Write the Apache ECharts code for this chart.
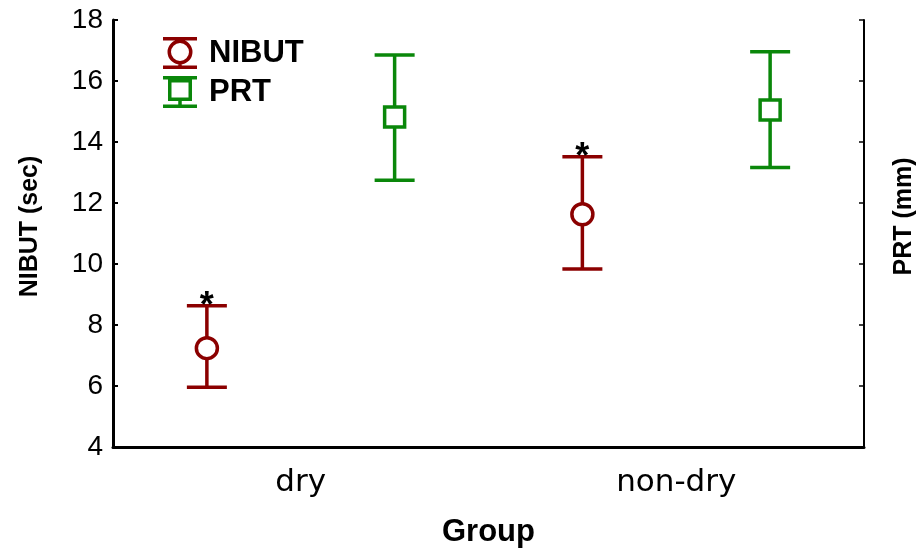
<!DOCTYPE html>
<html>
<head>
<meta charset="utf-8">
<script src="https://cdn.jsdelivr.net/npm/echarts@6/dist/echarts.min.js"></script>
<style>html,body{margin:0;padding:0;background:#fff;}#c{width:922px;height:550px;}</style>
</head>
<body>
<div id="c"></div>
<script>
const categories = ['dry', 'non-dry'];
const nibutMean = [7.24, 11.63];
const nibutLow = [5.96, 9.84];
const nibutHigh = [8.63, 13.52];
const nibutStar = [true, true];
const prtMean = [14.82, 15.05];
const prtLow = [12.75, 13.16];
const prtHigh = [16.85, 16.96];
const yMin = 4, yMax = 18, yStep = 2;

const RED = '#8b0000';
const GREEN = '#0a870a';

function makeRender(offsetFrac, marker, color, stars) {
  return function (params, api) {
    const idx = api.value(0);
    const c = api.coord([idx, api.value(1)]);
    const lo = api.coord([idx, api.value(2)]);
    const hi = api.coord([idx, api.value(3)]);
    const band = api.size([1, 0])[0];
    const x = c[0] + offsetFrac * band;
    const hw = 20;
    const ls = { stroke: color, lineWidth: 3.5, fill: null };
    const children = [
      { type: 'line', shape: { x1: x, y1: hi[1], x2: x, y2: lo[1] }, style: ls },
      { type: 'line', shape: { x1: x - hw, y1: hi[1], x2: x + hw, y2: hi[1] }, style: ls },
      { type: 'line', shape: { x1: x - hw, y1: lo[1], x2: x + hw, y2: lo[1] }, style: ls }
    ];
    if (marker === 'circle') {
      children.push({ type: 'circle', shape: { cx: x, cy: c[1], r: 10.5 }, style: { fill: '#fff', stroke: color, lineWidth: 3.5 } });
    } else {
      children.push({ type: 'rect', shape: { x: x - 10, y: c[1] - 10, width: 20, height: 20 }, style: { fill: '#fff', stroke: color, lineWidth: 3.5 } });
    }
    if (stars && stars[params.dataIndex]) {
      children.push({ type: 'text', style: { text: '*', x: x, y: hi[1] + 1, align: 'center', verticalAlign: 'middle', font: 'bold 36px "Liberation Sans"', fill: '#000' } });
    }
    return { type: 'group', children: children };
  };
}

const nibutData = categories.map((c, i) => [i, nibutMean[i], nibutLow[i], nibutHigh[i]]);
const prtData = categories.map((c, i) => [i, prtMean[i], prtLow[i], prtHigh[i]]);

// filled legend icons (error bar with hollow marker) in a 34x32 box
const circleIcon = 'path://M0,0L34,0L34,3.5L0,3.5Z' +
  'M0,28.5L34,28.5L34,32L0,32Z' +
  'M15.25,26L18.75,26L18.75,29L15.25,29Z' +
  'M29.5,15A12.5,12.5,0,1,1,4.5,15A12.5,12.5,0,1,1,29.5,15Z' +
  'M26,15A9,9,0,1,0,8,15A9,9,0,1,0,26,15Z';
const squareIcon = 'path://M0,0L34,0L34,3.5L0,3.5Z' +
  'M0,28.5L34,28.5L34,32L0,32Z' +
  'M15.25,24L18.75,24L18.75,29L15.25,29Z' +
  'M5,3L29,3L29,25L5,25Z' +
  'M8.5,6.5L8.5,21.5L25.5,21.5L25.5,6.5Z';

const chart = echarts.init(document.getElementById('c'), null, { renderer: 'canvas' });
chart.setOption({
  animation: false,
  backgroundColor: '#fff',
  grid: { left: 113, right: 58, top: 20, bottom: 103, outerBoundsMode: 'none', containLabel: false },
  legend: {
    orient: 'vertical',
    left: 163, top: 37, padding: 0,
    itemWidth: 34, itemHeight: 32, itemGap: 7,
    textStyle: { fontFamily: '"Liberation Sans"', fontWeight: 'bold', fontSize: 31, color: '#000', padding: [0, 0, 0, 7] },
    data: [
      { name: 'NIBUT', icon: circleIcon, itemStyle: { color: RED, borderWidth: 0 } },
      { name: 'PRT', icon: squareIcon, itemStyle: { color: GREEN, borderWidth: 0 } }
    ]
  },
  xAxis: {
    type: 'category',
    data: categories,
    boundaryGap: true,
    name: 'Group',
    nameLocation: 'middle',
    nameGap: 70,
    nameTextStyle: { fontFamily: '"Liberation Sans"', fontWeight: 'bold', fontSize: 31, color: '#000' },
    axisLine: { lineStyle: { color: '#000', width: 3 } },
    axisTick: { inside: true, alignWithLabel: true, length: 5, lineStyle: { color: '#000', width: 2 } },
    axisLabel: { fontFamily: '"DejaVu Sans"', fontSize: 31, color: '#000', margin: 20 },
    splitLine: { show: false }
  },
  yAxis: [
    {
      type: 'value', min: yMin, max: yMax, interval: yStep, position: 'left',
      name: 'NIBUT (sec)', nameLocation: 'middle', nameGap: 70, nameRotate: 90,
      nameTextStyle: { fontFamily: '"Liberation Sans"', fontWeight: 'bold', fontSize: 25, color: '#000', padding: [0, 0, 0, 14] },
      axisLine: { show: true, lineStyle: { color: '#000', width: 3 } },
      axisTick: { show: true, inside: true, length: 5, lineStyle: { color: '#000', width: 2 } },
      axisLabel: { fontFamily: '"Liberation Sans"', fontSize: 28, color: '#000', margin: 10 },
      splitLine: { show: false }
    },
    {
      type: 'value', min: yMin, max: yMax, interval: yStep, position: 'right',
      name: 'PRT (mm)', nameLocation: 'middle', nameGap: 28, nameRotate: 90,
      nameTextStyle: { fontFamily: '"Liberation Sans"', fontWeight: 'bold', fontSize: 25, color: '#000', padding: [0, 0, 0, 34] },
      axisLine: { show: true, lineStyle: { color: '#000', width: 2 } },
      axisTick: { show: true, inside: true, length: 5, lineStyle: { color: '#000', width: 1.5 } },
      axisLabel: { show: false },
      splitLine: { show: false }
    }
  ],
  series: [
    {
      name: 'NIBUT', type: 'custom', yAxisIndex: 0,
      itemStyle: { color: RED },
      encode: { x: 0, y: [1, 2, 3] },
      renderItem: makeRender(-0.25, 'circle', RED, nibutStar),
      data: nibutData
    },
    {
      name: 'PRT', type: 'custom', yAxisIndex: 1,
      itemStyle: { color: GREEN },
      encode: { x: 0, y: [1, 2, 3] },
      renderItem: makeRender(0.25, 'square', GREEN, null),
      data: prtData
    }
  ]
});
</script>
</body>
</html>
